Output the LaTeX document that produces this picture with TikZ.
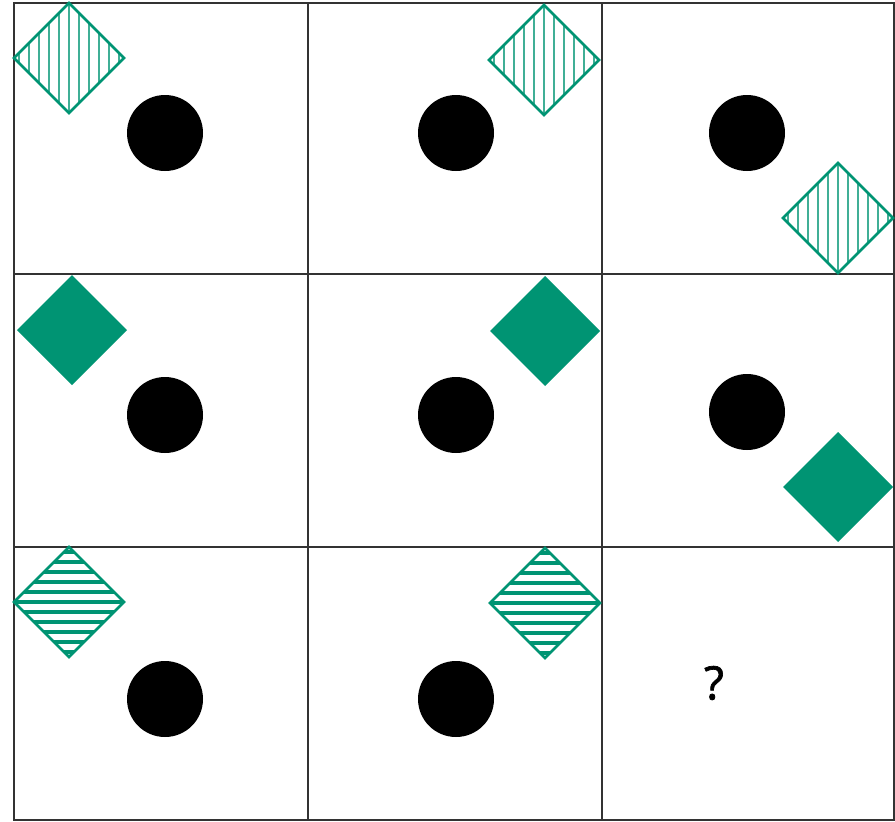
\documentclass[tikz,border=0pt]{standalone}
\usepackage{fontspec}
\setmainfont{Open Sans}
\definecolor{hteal}{RGB}{0,148,115}
\definecolor{gridc}{RGB}{51,51,51}
\newcommand\diapath[2]{(#1-55,#2) -- (#1,#2-55) -- (#1+55,#2) -- (#1,#2+55) -- cycle}
\newcommand\vdia[2]{%
  \begin{scope}
    \clip \diapath{#1}{#2};
    \foreach \k in {-50,-40,...,50} \draw[vhatch] (#1+\k,#2-56) -- (#1+\k,#2+56);
  \end{scope}
  \draw[diaedge] \diapath{#1}{#2};}
\newcommand\hdia[2]{%
  \begin{scope}
    \clip \diapath{#1}{#2};
    \foreach \k in {-50,-40,...,50} \draw[hhatch] (#1-56,#2+\k) -- (#1+56,#2+\k);
  \end{scope}
  \draw[diaedge] \diapath{#1}{#2};}
\begin{document}
\begin{tikzpicture}[x=1pt,y=-1pt,
  gridline/.style={draw=gridc,line width=2.3pt},
  diaedge/.style={draw=hteal,line width=2.5pt,line join=miter},
  vhatch/.style={draw=hteal!75,line width=2.6pt},
  hhatch/.style={draw=hteal,line width=4.5pt},
  soliddia/.style={fill=hteal,draw=none},
  dot/.style={fill=black,draw=none}]
\useasboundingbox (0,0) rectangle (895,822);
% grid
\draw[gridline] (14,3) rectangle (894,820);
\draw[gridline] (308,3) -- (308,820);
\draw[gridline] (602,3) -- (602,820);
\draw[gridline] (14,274) -- (894,274);
\draw[gridline] (14,547) -- (894,547);
% row 1
\vdia{69}{58}
\vdia{544}{60}
\vdia{838}{218}
\fill[dot] (165,133) circle (38);
\fill[dot] (456,133) circle (38);
\fill[dot] (747,133) circle (38);
% row 2
\fill[soliddia] \diapath{72}{330};
\fill[soliddia] \diapath{545}{331};
\fill[soliddia] \diapath{838}{487};
\fill[dot] (165,415) circle (38);
\fill[dot] (456,415) circle (38);
\fill[dot] (747,412) circle (38);
% row 3
\hdia{69}{602}
\hdia{545}{603}
\fill[dot] (165,699) circle (38);
\fill[dot] (456,699) circle (38);
\node[font=\fontsize{46}{52}\selectfont, text=black] (q) at (714,683) {\addfontfeature{FakeBold=1.5}?};
\end{tikzpicture}
\end{document}
